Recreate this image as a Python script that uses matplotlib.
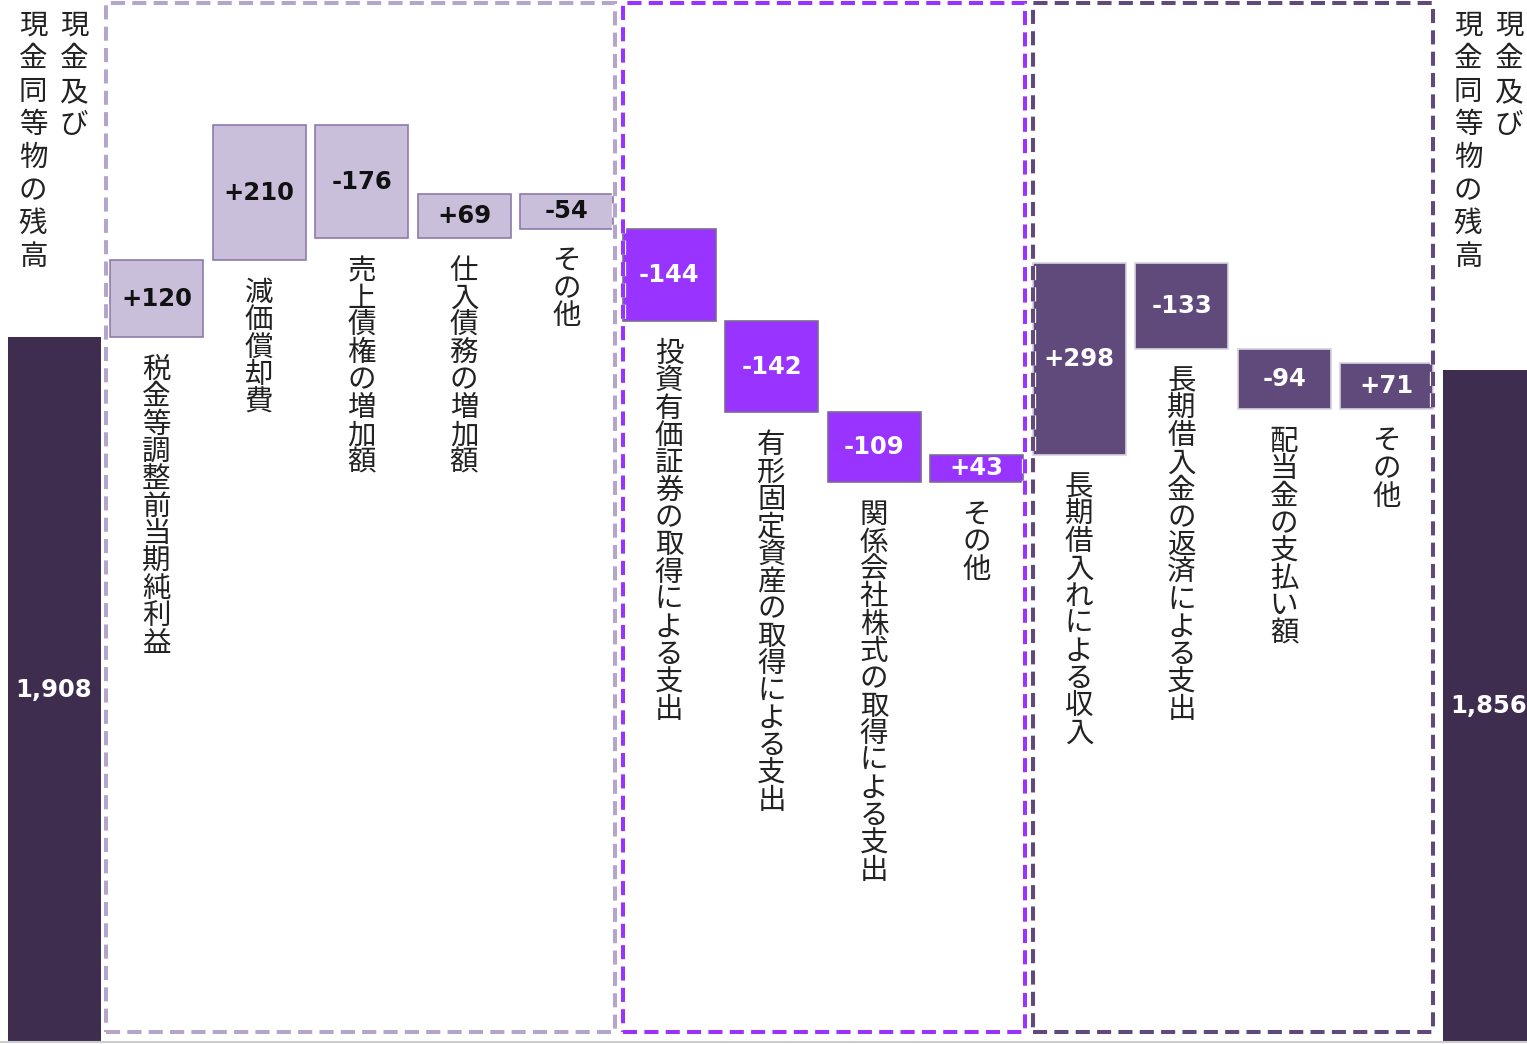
import matplotlib.pyplot as plt
import matplotlib.patheffects as pe
from matplotlib.patches import Rectangle
import matplotlib.transforms as mtransforms

plt.rcParams['font.family'] = ['Noto Sans CJK JP', 'DejaVu Sans']

# cash flow bridge (億円)
opening = 1908
closing = 1856
balance_label = '現金及び現金同等物の残高'
items = ['税金等調整前当期純利益', '減価償却費', '売上債権の増加額', '仕入債務の増加額', 'その他',
         '投資有価証券の取得による支出', '有形固定資産の取得による支出',
         '関係会社株式の取得による支出', 'その他',
         '長期借入れによる収入', '長期借入金の返済による支出', '配当金の支払い額', 'その他']
changes = [120, 210, -176, 69, -54, -144, -142, -109, 43, 298, -133, -94, 71]
groups = ['op'] * 5 + ['inv'] * 4 + ['fin'] * 4

fill = {'op': '#c9bfdb', 'inv': '#9933ff', 'fin': '#5f4a7b'}
edge = {'op': '#8e7bab', 'inv': '#7d6a96', 'fin': '#d8d2e0'}
box_color = {'op': '#b4a5cd', 'inv': '#9933ff', 'fin': '#5f4a7b'}
box_pad = {'op': (0.04, 0.015), 'inv': (0.0, 0.015), 'fin': (0.0, 0.0)}
text_color = {'op': '#111111', 'inv': 'white', 'fin': 'white'}
balance_color = '#3f2d50'

fig = plt.figure(figsize=(15.27, 10.44), dpi=100)
ax = fig.add_axes([0, 2 / 1044, 1, 1042 / 1044])
ax.set_xlim(-0.527, 14.37)
ax.set_ylim(810, 2433)
ymin = ax.get_ylim()[0]
width = 0.907

num_font = dict(family='DejaVu Sans', fontweight='bold', fontsize=17.5)
jp_font = dict(family=['Noto Sans CJK JP', 'DejaVu Sans'], fontsize=20.5, color='#222222')


def vertical(s):
    return '\n'.join(s)


# opening / closing balances
n = len(items)
for x, val in [(0, opening), (n + 1, closing)]:
    ax.bar(x, val, width=width, color=balance_color, zorder=2)
    ax.text(x, (ymin + val) / 2, f'{val:,}', ha='center', va='center',
            color='white', **num_font)
    for dx, part in [(20, balance_label[:4]), (-21, balance_label[4:])]:
        ax.annotate(vertical(part), xy=(x, 1.0), xycoords=('data', 'axes fraction'),
                    xytext=(dx, -11), textcoords='offset pixels',
                    ha='center', va='top', linespacing=1.13, **jp_font)

# step bars
level = opening
for i, (name, d, g) in enumerate(zip(items, changes, groups), start=1):
    lo, hi = min(level, level + d), max(level, level + d)
    ax.bar(i, hi - lo, bottom=lo, width=width, color=fill[g],
           edgecolor=edge[g], linewidth=1.2, zorder=2)
    ax.text(i, (lo + hi) / 2, f'{d:+d}', ha='center', va='center',
            color=text_color[g], **num_font)
    ax.annotate(vertical(name), xy=(i, lo), xytext=(0, -18), textcoords='offset pixels',
                ha='center', va='top', linespacing=0.885, **jp_font)
    level += d

# dashed frames around each activity group
trans = mtransforms.blended_transform_factory(ax.transData, ax.transAxes)
for g in ['op', 'inv', 'fin']:
    idx = [i for i, gg in enumerate(groups, start=1) if gg == g]
    left = idx[0] - width / 2 - box_pad[g][0]
    right = idx[-1] + width / 2 + box_pad[g][1]
    r = Rectangle((left, 0.0096), right - left, 0.997 - 0.0096, transform=trans,
                  fill=False, edgecolor=box_color[g], linewidth=2.9,
                  linestyle=(0, (3.5, 1.8)), zorder=3)
    r.set_path_effects([pe.Stroke(linewidth=4.5, foreground='white'), pe.Normal()])
    ax.add_patch(r)

for s in ['top', 'left', 'right']:
    ax.spines[s].set_visible(False)
ax.spines['bottom'].set_color('#cccccc')
ax.spines['bottom'].set_linewidth(1.5)
ax.set_xticks([])
ax.set_yticks([])

fig.savefig('out.png', dpi=100)
